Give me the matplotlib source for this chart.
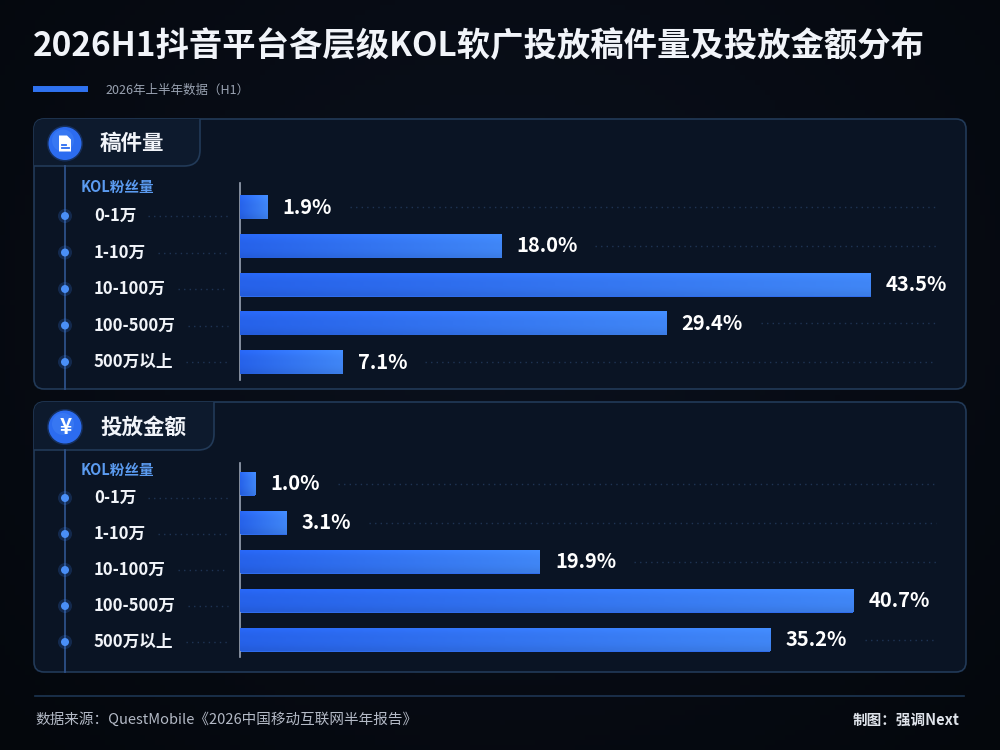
import numpy as np
import matplotlib
matplotlib.use("Agg")
import matplotlib.pyplot as plt
from matplotlib.patches import FancyBboxPatch, Circle, PathPatch, Polygon
from matplotlib.path import Path

plt.rcParams['font.family'] = ['Noto Sans CJK SC', 'DejaVu Sans']

# ---------------- data ----------------
title = "2026H1抖音平台各层级KOL软广投放稿件量及投放金额分布"
subtitle = "2026年上半年数据（H1）"
source_text = "数据来源：QuestMobile《2026中国移动互联网半年报告》"
credit_text = "制图：强调Next"
axis_caption = "KOL粉丝量"
categories = ["0-1万", "1-10万", "10-100万", "100-500万", "500万以上"]
panel_titles = ["稿件量", "投放金额"]
manuscript_share = [1.9, 18.0, 43.5, 29.4, 7.1]
spend_share = [1.0, 3.1, 19.9, 40.7, 35.2]
series = [manuscript_share, spend_share]

# ---------------- style / layout ----------------
W, H = 1000, 750
BG = "#060a12"
PANEL = "#0a1424"
TAB = "#0d1a2d"
BORDER = "#223a58"
WHITE = "#f1f4f9"
LEADER = "#1f3454"

layouts = [
    dict(top=119, bottom=389, tab_w=200, tab_h=47, cap_y=187, label_y0=216, label_step=36.5,
         bar_top=183, bar_bot=380, row0=207, step=38.75, px_per=14.5, icon="doc"),
    dict(top=402, bottom=672, tab_w=214, tab_h=48, cap_y=470, label_y0=498, label_step=36,
         bar_top=463, bar_bot=657, row0=483.5, step=39.0, px_per=15.07, icon="yen"),
]
PX_L, PX_R = 34, 966
AX_X0, AX_W = 240, 700

fig = plt.figure(figsize=(10, 7.5), dpi=100)
fig.patch.set_facecolor(BG)
bg = fig.add_axes([0, 0, 1, 1])
bg.set_xlim(0, W)
bg.set_ylim(H, 0)
bg.axis('off')

# subtle vignette
yy, xx = np.mgrid[0:150, 0:200]
r = np.sqrt(((xx - 100) / 100.0) ** 2 + ((yy - 60) / 90.0) ** 2)
t = np.clip(r / 1.4, 0, 1)[..., None]
c_in = np.array([11, 17, 30]) / 255.0
c_out = np.array([4, 7, 12]) / 255.0
img = c_in * (1 - t) + c_out * t
bg.imshow(img, extent=[0, W, H, 0], origin='upper', aspect='auto', zorder=0)
bg.set_xlim(0, W)
bg.set_ylim(H, 0)

# title and subtitle
bg.text(33, 47, title, fontsize=24, fontweight='bold', color=WHITE, va='center', ha='left', zorder=5)
bg.plot([33, 88], [89, 89], color="#2f72f0", lw=4.3, solid_capstyle='butt', zorder=5)
bg.text(105, 90, subtitle, fontsize=9, color="#9aa3b2", va='center', ha='left', zorder=5)

# footer
bg.plot([35, 964], [696, 696], color="#1d3552", lw=1.2, zorder=5)
bg.text(35, 720, source_text, fontsize=10.5, color="#b4bac6", va='center', ha='left', zorder=5)
bg.text(960, 720, credit_text, fontsize=10.5, color="#dfe3ea", va='center', ha='right',
        fontweight='bold', zorder=5)

bar_axes = []
value_texts = []
label_texts = []

for p, (lay, vals, ptitle) in enumerate(zip(layouts, series, panel_titles)):
    top, bot = lay['top'], lay['bottom']
    panel = FancyBboxPatch((PX_L, top), PX_R - PX_L, bot - top,
                           boxstyle="round,pad=0,rounding_size=10",
                           facecolor=PANEL, edgecolor=BORDER, lw=1.2, zorder=1)
    bg.add_patch(panel)

    # header tab
    tw, th, rr = lay['tab_w'], lay['tab_h'], 16
    verts = [(PX_L, top), (tw, top), (tw, top + th - rr), (tw, top + th), (tw - rr, top + th),
             (PX_L, top + th), (PX_L, top)]
    codes = [Path.MOVETO, Path.LINETO, Path.LINETO, Path.CURVE3, Path.CURVE3, Path.LINETO, Path.CLOSEPOLY]
    tab = PathPatch(Path(verts, codes), facecolor=TAB, edgecolor='none', zorder=2)
    bg.add_patch(tab)
    tab.set_clip_path(panel)
    everts = [(tw, top), (tw, top + th - rr), (tw, top + th), (tw - rr, top + th), (PX_L, top + th)]
    ecodes = [Path.MOVETO, Path.LINETO, Path.CURVE3, Path.CURVE3, Path.LINETO]
    bg.add_patch(PathPatch(Path(everts, ecodes), facecolor='none', edgecolor=BORDER, lw=1.2, zorder=3))

    # icon
    icy = top + th / 2 + 1
    bg.add_patch(Circle((65, icy), 18, color="#2f6fec", alpha=0.25, zorder=3, lw=0))
    bg.add_patch(Circle((65, icy), 16.5, color="#2c6cf0", zorder=4, lw=0))
    bg.add_patch(Circle((63, icy - 3), 11, color="#4d8cf8", alpha=0.35, zorder=4, lw=0))
    if lay['icon'] == "doc":
        doc = Polygon([(59, icy - 8), (67, icy - 8), (71, icy - 4), (71, icy + 8), (59, icy + 8)],
                      closed=True, facecolor='white', edgecolor='none', zorder=5)
        bg.add_patch(doc)
        bg.plot([61.5, 66], [icy + 1.5, icy + 1.5], color="#2c6cf0", lw=1.3, zorder=6)
        bg.plot([61.5, 68.5], [icy + 4.5, icy + 4.5], color="#2c6cf0", lw=1.3, zorder=6)
    else:
        bg.text(65.5, icy, "¥", fontsize=15, fontweight='bold', color='white',
                ha='center', va='center', zorder=5)
    bg.text(100, icy, ptitle, fontsize=15.5, fontweight='bold', color=WHITE,
            ha='left', va='center', zorder=5)

    # timeline
    bg.plot([65, 65], [top + th, bot], color="#2d5088", lw=1.3, zorder=3)
    bg.text(81, lay['cap_y'], axis_caption, fontsize=10.5, fontweight='bold', color="#5b9bf0",
            ha='left', va='center', zorder=5)
    for i, cat in enumerate(categories):
        ly = lay['label_y0'] + i * lay['label_step']
        bg.add_patch(Circle((65, ly), 7, color="#3b82f6", alpha=0.2, zorder=4, lw=0))
        bg.add_patch(Circle((65, ly), 4, color="#4a8ff7", zorder=5, lw=0))
        label_texts.append((bg.text(94, ly, cat, fontsize=12, fontweight='bold', color=WHITE,
                                    ha='left', va='center', zorder=5), ly))

    # bar axes
    ax = fig.add_axes([AX_X0 / W, 1 - lay['bar_bot'] / H, AX_W / W, (lay['bar_bot'] - lay['bar_top']) / H])
    ax.set_facecolor('none')
    ax.patch.set_alpha(0)
    step = lay['step']
    y_top = (lay['bar_top'] - lay['row0']) / step
    y_bot = (lay['bar_bot'] - lay['row0']) / step
    xmax = AX_W / lay['px_per']
    ypos = np.arange(len(categories))
    bh = 24 / step
    bars = ax.barh(ypos, vals, height=bh, color="#2f6cec", edgecolor='none', zorder=2)
    ncol = 128
    left = np.array([38, 98, 234]) / 255.0
    right = np.array([64, 134, 246]) / 255.0
    tt = np.linspace(0, 1, ncol)[None, :, None]
    grad = left * (1 - tt) + right * tt
    vshade = np.array([1.06, 1.02, 1.0, 1.0, 0.98, 0.94])[:, None, None]
    grad = np.clip(np.repeat(grad, 6, axis=0) * vshade, 0, 1)
    for b, v, yv in zip(bars, vals, ypos):
        im = ax.imshow(grad, extent=[0, v, yv + bh / 2, yv - bh / 2], origin='upper',
                       aspect='auto', zorder=3, interpolation='bilinear')
        im.set_clip_path(b)
        value_texts.append((ax.annotate(f"{v:.1f}%", xy=(v, yv), xytext=(15, 0),
                                        textcoords='offset pixels', ha='left', va='center',
                                        fontsize=14.5, fontweight='bold', color='white', zorder=5),
                            lay['row0'] + yv * step))
    ax.set_xlim(0, xmax)
    ax.set_ylim(y_bot, y_top)
    for s in ['top', 'right', 'bottom']:
        ax.spines[s].set_visible(False)
    ax.spines['left'].set_color("#9aa4b4")
    ax.spines['left'].set_linewidth(1.2)
    ax.set_xticks([])
    ax.set_yticks([])
    bar_axes.append(ax)

# leaders (need text extents)
fig.canvas.draw()
ren = fig.canvas.get_renderer()
for txt, ly in label_texts:
    bb = txt.get_window_extent(ren)
    x0 = bb.x1 + 12
    if x0 < 226:
        bg.plot([x0, 228], [ly, ly], color=LEADER, lw=1, linestyle=(0, (1, 3)), zorder=3)
for txt, ry in value_texts:
    bb = txt.get_window_extent(ren)
    x0 = bb.x1 + 18
    if x0 < 915:
        bg.plot([x0, 936], [ry, ry], color=LEADER, lw=1, linestyle=(0, (1, 3)), zorder=3)

fig.savefig("out.png", dpi=100, facecolor=BG)
